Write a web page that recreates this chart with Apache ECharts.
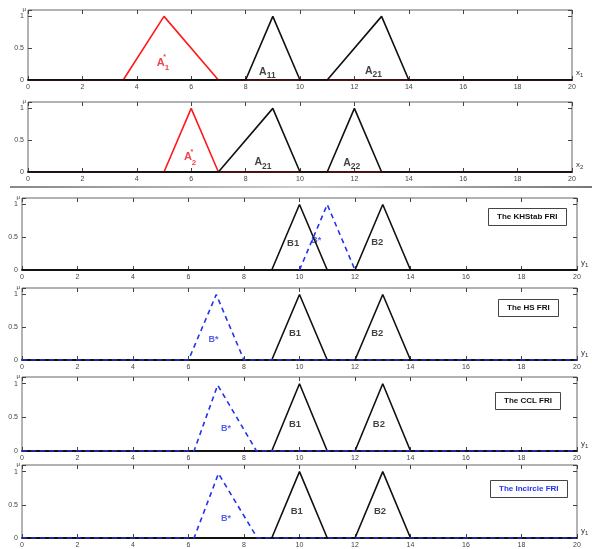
<!DOCTYPE html>
<html>
<head>
<meta charset="utf-8">
<script src="https://cdn.jsdelivr.net/npm/echarts@6/dist/echarts.min.js"></script>
<style>
  html, body { margin: 0; padding: 0; background: #fff; }
  #chart { width: 592px; height: 549px; }
</style>
</head>
<body>
<div id="chart"></div>
<script>
// membership functions, [x, mu]
const a1Star = [[0, 0], [3.5, 0], [5, 1], [7, 0], [20, 0]]
const a11 = [[0, 0], [8, 0], [9, 1], [10, 0], [20, 0]]
const a21 = [[0, 0], [11, 0], [13, 1], [14, 0], [20, 0]]
const a2Star = [[0, 0], [5, 0], [6, 1], [7, 0], [20, 0]]
const a21b = [[0, 0], [7, 0], [9, 1], [10, 0], [20, 0]]
const a22 = [[0, 0], [11, 0], [12, 1], [13, 0], [20, 0]]
const b1 = [[0, 0], [9, 0], [10, 1], [11, 0], [20, 0]]
const b2 = [[0, 0], [12, 0], [13, 1], [14, 0], [20, 0]]
const bKHStab = [[10, 0], [11, 1], [12, 0]]
const bHS = [[0, 0], [6, 0], [7, 1], [8, 0], [20, 0]]
const bCCL = [[0, 0], [6.2, 0], [7.05, 0.98], [8.45, 0], [20, 0]]
const bIncircle = [[0, 0], [6.2, 0], [7.08, 0.97], [8.48, 0], [20, 0]]

// text labels inside the plots, [x, mu, text]
const labels1 = [[4.96, 0.27, '{a|A}{sup|*}{sub|1}'], [8.8, 0.13, '{k|A}{ks|11}'], [12.7, 0.14, '{k|A}{ks|21}']]
const labels2 = [[5.96, 0.23, '{a|A}{sup|*}{sub|2}'], [8.64, 0.15, '{k|A}{ks|21}'], [11.9, 0.14, '{k|A}{ks|22}']]
const labelsB3 = [[9.77, 0.4, '{k2|B1}'], [10.6, 0.45, '{b|B*}'], [12.8, 0.42, '{k2|B2}']]
const labelsB4 = [[6.9, 0.31, '{b|B*}'], [9.84, 0.4, '{k2|B1}'], [12.8, 0.4, '{k2|B2}']]
const labelsB5 = [[7.35, 0.34, '{b|B*}'], [9.84, 0.4, '{k2|B1}'], [12.86, 0.4, '{k2|B2}']]
const labelsB6 = [[7.35, 0.3, '{b|B*}'], [9.9, 0.4, '{k2|B1}'], [12.9, 0.4, '{k2|B2}']]

const chart = echarts.init(document.getElementById('chart'))
const FONT = 'Liberation Sans'

const grids = [
  { left: 28, right: 20, top: 10, height: 70 },
  { left: 28, right: 20, top: 102, height: 70 },
  { left: 22, right: 15, top: 198, height: 72 },
  { left: 22, right: 15, top: 288, height: 72 },
  { left: 22, right: 15, top: 377, height: 74 },
  { left: 22, right: 15, top: 465, height: 75 }
]
const xNames = [['x', '1'], ['x', '2'], ['y', '1'], ['y', '1'], ['y', '1'], ['y', '1']]

const rich = {
  a: { color: '#e8141b', fontWeight: 'bold', fontSize: 11, fontFamily: FONT },
  sup: { color: '#e8141b', fontWeight: 'bold', fontSize: 7, fontFamily: FONT, verticalAlign: 'top', width: 0 },
  sub: { color: '#e8141b', fontWeight: 'bold', fontSize: 8, fontFamily: FONT, verticalAlign: 'bottom', padding: [10, 0, 0, 0] },
  k: { color: '#111', fontWeight: 'bold', fontSize: 10.5, fontFamily: FONT },
  ks: { color: '#111', fontWeight: 'bold', fontSize: 8.5, fontFamily: FONT, padding: [8, 0, 0, 0] },
  k2: { color: '#111', fontWeight: 'bold', fontSize: 9.5, fontFamily: FONT },
  b: { color: '#2a3ae6', fontWeight: 'bold', fontSize: 9, fontFamily: FONT }
}

const tick = { inside: true, length: 4, lineStyle: { color: '#444' } }
const xAxis = []
const yAxis = []
grids.forEach((g, i) => {
  xAxis.push({
    gridIndex: i, type: 'value', min: 0, max: 20, interval: 2, position: 'bottom',
    name: '{n|' + xNames[i][0] + '}{s|' + xNames[i][1] + '}',
    nameGap: 4,
    nameTextStyle: {
      padding: [0, 0, 14, 0],
      rich: {
        n: { fontSize: 8, color: '#333', fontFamily: FONT },
        s: { fontSize: 6, color: '#333', fontFamily: FONT, padding: [5, 0, 0, 0] }
      }
    },
    axisLine: { show: true, onZero: false, lineStyle: { color: '#222', width: 2 } },
    axisTick: tick,
    axisLabel: { fontSize: 7, color: '#444', margin: 4, fontFamily: FONT },
    splitLine: { show: false }
  })
  xAxis.push({
    gridIndex: i, type: 'value', min: 0, max: 20, interval: 2, position: 'top',
    axisLine: { show: false, onZero: false },
    axisTick: tick,
    axisLabel: { show: false },
    splitLine: { show: false }
  })
  yAxis.push({
    gridIndex: i, type: 'value', min: 0, max: 1.1, interval: 0.5, position: 'left',
    name: 'μ', nameGap: 0,
    nameTextStyle: { fontSize: 6, color: '#333', align: 'right', padding: [0, 2, -2, 0] },
    axisLine: { show: false, onZero: false },
    axisTick: tick,
    axisLabel: {
      fontSize: 7, color: '#444', margin: 4, fontFamily: FONT,
      formatter: v => (v === 0 || v === 0.5 || v === 1) ? String(v) : ''
    },
    splitLine: { show: false }
  })
  yAxis.push({
    gridIndex: i, type: 'value', min: 0, max: 1.1, interval: 0.5, position: 'right',
    axisLine: { show: false, onZero: false },
    axisTick: tick,
    axisLabel: { show: false },
    splitLine: { show: false }
  })
})

function line(gi, data, color, dashed) {
  return {
    type: 'line', xAxisIndex: gi * 2, yAxisIndex: gi * 2, data: data,
    symbol: 'none', silent: true, animation: false,
    lineStyle: { color: color, width: 1.6, type: dashed ? [5, 4] : 'solid' }
  }
}
function texts(gi, data) {
  return {
    type: 'scatter', xAxisIndex: gi * 2, yAxisIndex: gi * 2, symbolSize: 0, silent: true, animation: false,
    data: data.map(d => [d[0], d[1]]),
    label: {
      show: true, position: 'inside',
      formatter: p => data[p.dataIndex][2],
      rich: rich
    }
  }
}

const BLACK = '#111'
const RED = '#ff1a1a'
const BLUE = '#2233ee'

const series = [
  line(0, a1Star, RED), line(0, a11, BLACK), line(0, a21, BLACK), texts(0, labels1),
  line(1, a2Star, RED), line(1, a21b, BLACK), line(1, a22, BLACK), texts(1, labels2),
  line(2, b1, BLACK), line(2, b2, BLACK), line(2, bKHStab, BLUE, true), texts(2, labelsB3),
  line(3, b1, BLACK), line(3, b2, BLACK), line(3, bHS, BLUE, true), texts(3, labelsB4),
  line(4, b1, BLACK), line(4, b2, BLACK), line(4, bCCL, BLUE, true), texts(4, labelsB5),
  line(5, b1, BLACK), line(5, b2, BLACK), line(5, bIncircle, BLUE, true), texts(5, labelsB6)
]

function boxTitle(text, left, top, color) {
  return {
    text: text, left: left, top: top,
    borderColor: '#444', borderWidth: 1, padding: [5, 9, 5, 9],
    textStyle: { fontSize: 8, fontWeight: 'bold', color: color, fontFamily: FONT }
  }
}

chart.setOption({
  backgroundColor: '#ffffff',
  animation: false,
  title: [
    boxTitle('The KHStab FRI', 488, 208, '#111'),
    boxTitle('The HS FRI', 498, 299, '#111'),
    boxTitle('The CCL FRI', 495, 392, '#111'),
    boxTitle('The Incircle FRI', 490, 480, '#2233ee')
  ],
  grid: grids.map(g => Object.assign({ show: true, borderColor: '#666', borderWidth: 1, backgroundColor: '#fff' }, g)),
  xAxis: xAxis,
  yAxis: yAxis,
  series: series,
  graphic: [
    {
      type: 'rect', shape: { x: 10, y: 186, width: 582, height: 2 },
      style: {
        fill: new echarts.graphic.LinearGradient(0, 0, 1, 0, [
          { offset: 0, color: '#888' }, { offset: 0.5, color: '#ccc' }, { offset: 1, color: '#777' }
        ])
      }
    }
  ]
})
</script>
</body>
</html>
